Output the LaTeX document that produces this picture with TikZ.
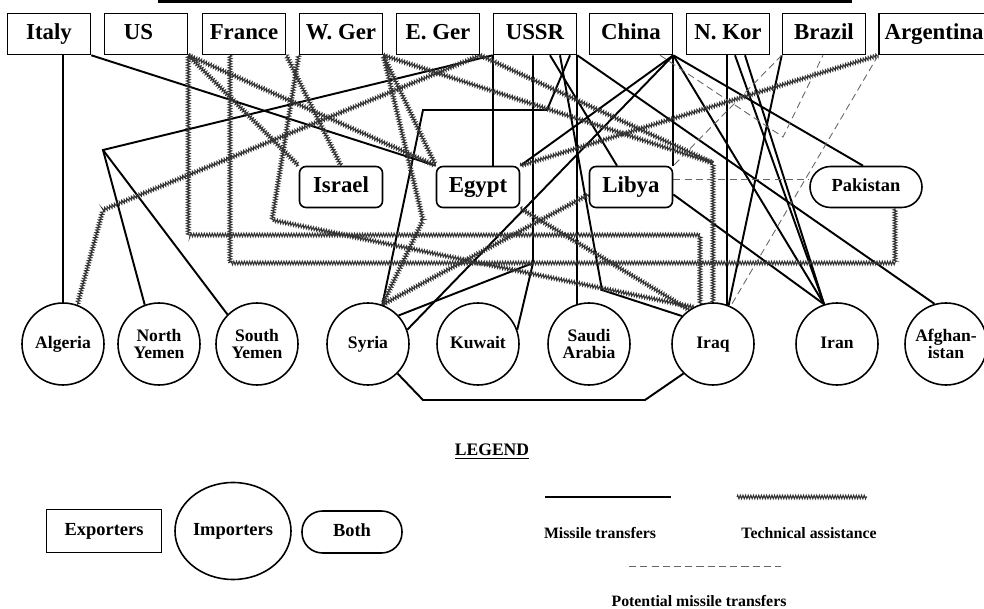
\documentclass[tikz,border=0pt]{standalone}
\usepackage{fontspec}
\setmainfont{Liberation Serif}
\usetikzlibrary{decorations.pathmorphing,backgrounds,shapes.geometric}

\tikzset{
  exporter/.style={draw,line width=0.9pt,fill=white,minimum width=16.6mm,minimum height=8.2mm,
    inner sep=0pt,text height=9pt,text depth=2.6pt,font=\fontsize{13}{15}\selectfont\bfseries},
  bothbox/.style={exporter,rounded corners=1.3mm},
  bothpill/.style={exporter,rounded corners=4.1mm,minimum width=22.4mm,text height=7pt,text depth=2pt,
    font=\fontsize{10.5}{12}\selectfont\bfseries},
  importer/.style={circle,draw,line width=0.9pt,fill=white,minimum size=16.4mm,inner sep=0pt,
    align=center,font=\fontsize{10}{9.5}\selectfont\bfseries},
  oneline/.style={text height=7pt,text depth=2pt},
  keytext/.style={font=\fontsize{9}{11}\selectfont\bfseries},
  mis/.style={line width=1.1pt},
  tech/.style={black!80,line width=0.6pt,decorate,decoration={zigzag,segment length=1.5pt,amplitude=1pt}},
  pot/.style={black!60,line width=0.5pt,dash pattern=on 4pt off 2.4pt},
}

\begin{document}
\begin{tikzpicture}[x=0.2mm,y=-0.2mm]
\useasboundingbox (0,0) rectangle (984,609);
\draw[line width=1.8pt] (158,1) -- (852,1); % lower edge of the title frame

% exporters
\node[exporter] (italy) at (49,34) {Italy};
\node[exporter] (us) at (146,34) {\hspace*{-3mm}US};
\node[exporter] (france) at (244,34) {France};
\node[exporter] (wger) at (341,34) {W. Ger};
\node[exporter] (eger) at (438,34) {E. Ger};
\node[exporter] (ussr) at (535,34) {USSR};
\node[exporter] (china) at (631,34) {China};
\node[exporter] (nkor) at (728,34) {N. Kor};
\node[exporter] (brazil) at (824,34) {Brazil};
\node[exporter,minimum width=22mm] (argentina) at (934,34) {Argentina};

% both
\node[bothbox] (israel) at (341,187) {Israel};
\node[bothbox] (egypt) at (478,187) {Egypt};
\node[bothbox] (libya) at (631,187) {Libya};
\node[bothpill] (pakistan) at (866,187) {Pakistan};

% importers
\node[importer,oneline] (algeria) at (63,344) {Algeria};
\node[importer] (nyemen) at (159,344) {North\\Yemen};
\node[importer] (syemen) at (257,344) {South\\Yemen};
\node[importer,oneline] (syria) at (368,344) {Syria};
\node[importer,oneline] (kuwait) at (478,344) {Kuwait};
\node[importer] (saudi) at (589,344) {Saudi\\Arabia};
\node[importer,oneline] (iraq) at (713,344) {Iraq};
\node[importer,oneline] (iran) at (837,344) {Iran};
\node[importer] (afghan) at (946,344) {Afghan-\\istan};

% bends of the connectors
\coordinate (yemenj) at (103,150);
\coordinate (sybendA) at (547,110);
\coordinate (sybendB) at (423,110);
\coordinate (kwj) at (533,263);
\coordinate (iqbend) at (602,290);
\coordinate (lowA) at (423,400);
\coordinate (lowB) at (645,400);
\coordinate (tbendA) at (700,235);
\coordinate (tbendB) at (230,263);
\coordinate (tbendC) at (895,263);
\coordinate (tbendD) at (272,220);
\coordinate (tbendE) at (423,220);
\coordinate (tbendF) at (713,163);
\coordinate (tbendG) at (103,210);
\coordinate (pbend) at (783,137);

\begin{scope}[on background layer]
  % missile transfers
  \draw[mis] (algeria.north |- italy.south) -- (algeria.north);
  \draw[mis] (italy.south east) -- (egypt.north west);
  \draw[mis] (ussr.south west) -- (yemenj) -- (nyemen.110);
  \draw[mis] (yemenj) -- (syemen.135);
  \draw[mis] (570,0 |- ussr.south) -- (sybendA) -- (sybendB) -- (syria.70);
  \draw[mis] (ussr.south west) -- (ussr.south west |- egypt.north);
  \draw[mis] (kwj |- ussr.south) -- (kwj) -- (kuwait.20);
  \draw[mis] (kwj) -- (syria.43);
  \draw[mis] (saudi.107 |- ussr.south) -- (saudi.107);
  \draw[mis] (550,0 |- ussr.south) -- (617,0 |- libya.north);
  \draw[mis] (ussr.south east) -- (afghan.106);
  \draw[mis] (560,0 |- ussr.south) -- (iqbend) -- (iraq.138);
  \draw[mis] (china.south east) -- (syria.20);
  \draw[mis] (china.south east) -- (863,0 |- pakistan.north);
  \draw[mis] (china.south east) -- (iran.108);
  \draw[mis] (china.south east) -- (libya.north east);
  \draw[mis] (china.south east) -- (egypt.north east);
  \draw[mis] (735,0 |- nkor.south) -- (iran.108);
  \draw[mis] (745,0 |- nkor.south) -- (iran.108);
  \draw[mis] (iraq.70 |- nkor.south) -- (iraq.70);
  \draw[mis] (brazil.south west) -- (iraq.68);
  \draw[mis] (libya.-10) -- (iran.108);
  \draw[mis] (syria.-45) -- (lowA) -- (lowB) -- (iraq.225);
  % technical assistance
  \draw[tech] (us.south east) -- (us.south east |- tbendA) -- (tbendA) -- (iraq.108);
  \draw[tech] (tbendB |- france.south) -- (tbendB) -- (tbendC) -- (tbendC |- pakistan.south);
  \draw[tech] (us.south east) -- (israel.north west);
  \draw[tech] (us.south east) -- (egypt.north west);
  \draw[tech] (france.south east) -- (israel.north);
  \draw[tech] (wger.south west) -- (tbendD) -- (iraq.118);
  \draw[tech] (wger.south east) -- (tbendE) -- (syria.70);
  \draw[tech] (wger.south east) -- (egypt.north west);
  \draw[tech] (wger.south east) -- (tbendF);
  \draw[tech] (eger.south east) -- (tbendF) -- (iraq.north);
  \draw[tech] (eger.south east) -- (tbendG) -- (algeria.70);
  \draw[tech] (argentina.south west) -- (egypt.north east);
  \draw[tech] (egypt.south east) -- (iraq.125);
  \draw[tech] (libya.190) -- (syria.70);
  % potential missile transfers
  \draw[pot] (660,0 |- china.south) -- (pbend) -- (823,0 |- brazil.south);
  \draw[pot] (brazil.south west) -- (libya.north east);
  \draw[pot] (argentina.south west) -- (iraq.65);
  \draw[pot] (libya.10) -- (pakistan.west |- libya.10);
\end{scope}

% legend
\node[font=\fontsize{10}{12}\selectfont\bfseries] (legend) at (492,452) {\underline{LEGEND}};
\node[exporter,minimum width=23mm,minimum height=8.6mm,text height=7pt,text depth=2pt,
  font=\fontsize{10.5}{12}\selectfont\bfseries] (exporters) at (104,531) {Exporters};
\node[ellipse,draw,line width=0.9pt,minimum width=23.2mm,minimum height=19.4mm,inner sep=0pt,
  font=\fontsize{10.5}{12}\selectfont\bfseries] (importers) at (233,531) {Importers};
\node[bothpill,minimum width=20mm,minimum height=8.4mm] (bothkey) at (352,532) {Both};
\draw[mis] (545,497) -- (671,497);
\draw[tech] (737,497) -- (867,497);
\draw[pot] (629,566) -- (781,566);
\node[keytext] (mislabel) at (600,533) {Missile transfers};
\node[keytext] (techlabel) at (809,533) {Technical assistance};
\node[keytext] (potlabel) at (699,601) {Potential missile transfers};
\end{tikzpicture}
\end{document}
